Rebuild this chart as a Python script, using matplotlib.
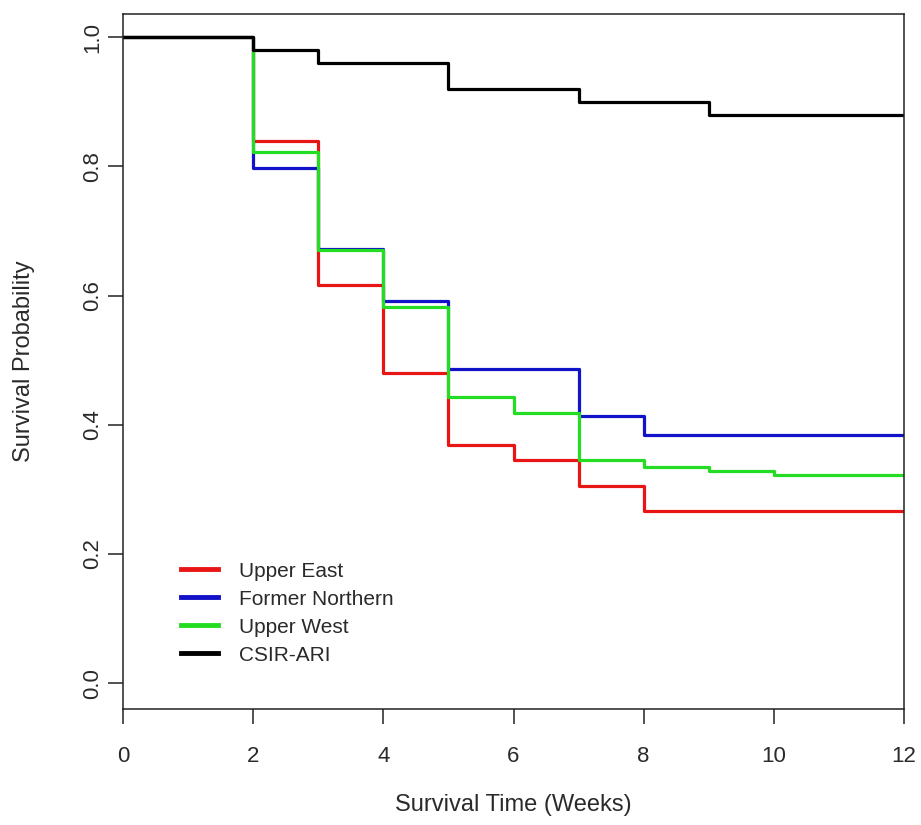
import matplotlib
matplotlib.use("Agg")
import matplotlib.pyplot as plt

plt.rcParams['font.family'] = ['Liberation Sans', 'DejaVu Sans']

# Kaplan-Meier step curves (time in weeks, survival probability)
ue_time = [0, 2, 3, 4, 5, 6, 7, 8, 12]
ue_surv = [1.0, 0.840, 0.617, 0.480, 0.368, 0.346, 0.306, 0.266, 0.266]

fn_time = [0, 2, 3, 4, 5, 7, 8, 12]
fn_surv = [1.0, 0.797, 0.672, 0.591, 0.486, 0.414, 0.384, 0.384]

uw_time = [0, 2, 3, 4, 5, 6, 7, 8, 9, 10, 12]
uw_surv = [1.0, 0.822, 0.671, 0.583, 0.443, 0.418, 0.346, 0.334, 0.328, 0.322, 0.322]

csir_time = [0, 2, 3, 5, 7, 9, 12]
csir_surv = [1.0, 0.98, 0.96, 0.92, 0.90, 0.88, 0.88]

labels = ["Upper East", "Former Northern", "Upper West", "CSIR-ARI"]
x_ticks = [0, 2, 4, 6, 8, 10, 12]
y_ticks = [0.0, 0.2, 0.4, 0.6, 0.8, 1.0]

txt = '#2a2a2a'

fig = plt.figure(figsize=(9.21, 8.25), dpi=100)
ax = fig.add_axes([123 / 921, 116 / 825, 781 / 921, 695 / 825])

series = [(ue_time, ue_surv, '#e81515'), (fn_time, fn_surv, '#1212c8'),
          (uw_time, uw_surv, '#22dd22'), (csir_time, csir_surv, 'black')]
for (t, s, c), lab in zip(series, labels):
    ax.step(t, s, where='post', color=c, lw=2.3, label=lab)

ax.set_xlim(0, 12)
ax.set_ylim(-0.04, 1.036)
ax.set_xticks(x_ticks)
ax.set_yticks(y_ticks)
ax.set_xticklabels([str(v) for v in x_ticks], fontsize=16, color=txt)
ax.set_yticklabels([f"{v:.1f}" for v in y_ticks], fontsize=16, rotation=90, va='center', color=txt)
ax.tick_params(axis='both', direction='out', length=11, width=1.1, color='#222222')
ax.tick_params(axis='x', pad=16)
ax.tick_params(axis='y', pad=3)
for sp in ax.spines.values():
    sp.set_linewidth(1.1)
    sp.set_color('#222222')

ax.set_xlabel("Survival Time (Weeks)", fontsize=17, labelpad=19, color=txt)
ax.set_ylabel("Survival Probability", fontsize=17, labelpad=34, color=txt)

leg = ax.legend(loc='center left', bbox_to_anchor=(0.074, 0.138), frameon=False,
                fontsize=15, handlelength=1.8, handletextpad=1.0, labelspacing=0.43,
                borderpad=0, borderaxespad=0)
for text in leg.get_texts():
    text.set_color(txt)
for line in leg.get_lines():
    line.set_linewidth(3.5)

fig.savefig("out.png", dpi=100)
